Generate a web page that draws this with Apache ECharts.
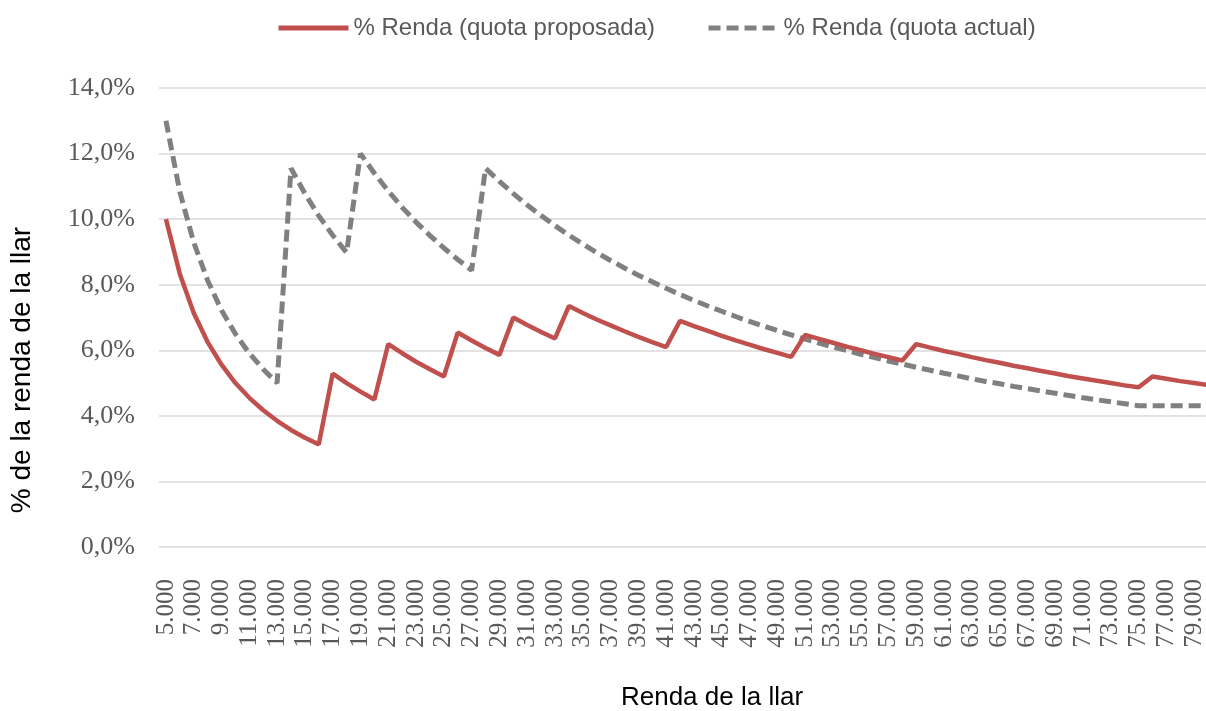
<!DOCTYPE html>
<html>
<head>
<meta charset="utf-8">
<title>% Renda</title>
<script src="https://cdn.jsdelivr.net/npm/echarts@6/dist/echarts.min.js"></script>
<style>
    html, body { margin: 0; padding: 0; background: #fff; }
    #main { width: 1206px; height: 711px; }
</style>
</head>
<body>
<div id="main"></div>
<script>
// Renda de la llar (eix X)
var rendes = [5000, 6000, 7000, 8000, 9000, 10000, 11000, 12000, 13000, 14000,
    15000, 16000, 17000, 18000, 19000, 20000, 21000, 22000, 23000, 24000,
    25000, 26000, 27000, 28000, 29000, 30000, 31000, 32000, 33000, 34000,
    35000, 36000, 37000, 38000, 39000, 40000, 41000, 42000, 43000, 44000,
    45000, 46000, 47000, 48000, 49000, 50000, 51000, 52000, 53000, 54000,
    55000, 56000, 57000, 58000, 59000, 60000, 61000, 62000, 63000, 64000,
    65000, 66000, 67000, 68000, 69000, 70000, 71000, 72000, 73000, 74000,
    75000, 76000, 77000, 78000, 79000, 80000];

// % Renda (quota proposada)
var quotaProposada = [10.0, 8.33, 7.14, 6.25, 5.56, 5.00, 4.55, 4.17, 3.85, 3.57,
    3.33, 3.13, 5.29, 5.00, 4.74, 4.50, 6.19, 5.91, 5.65, 5.42,
    5.20, 6.54, 6.30, 6.07, 5.86, 7.00, 6.77, 6.56, 6.36, 7.35,
    7.14, 6.94, 6.76, 6.58, 6.41, 6.25, 6.10, 6.90, 6.74, 6.59,
    6.44, 6.30, 6.17, 6.04, 5.92, 5.80, 6.47, 6.35, 6.23, 6.11,
    6.00, 5.89, 5.79, 5.69, 6.19, 6.08, 5.98, 5.89, 5.79, 5.70,
    5.62, 5.53, 5.45, 5.37, 5.29, 5.21, 5.14, 5.07, 5.00, 4.93,
    4.87, 5.20, 5.13, 5.06, 5.00, 4.94];

// % Renda (quota actual)
var quotaActual = [13.0, 10.83, 9.29, 8.13, 7.22, 6.50, 5.91, 5.42, 5.00, 11.55,
    10.78, 10.10, 9.51, 8.98, 12.00, 11.40, 10.86, 10.36, 9.91, 9.50,
    9.12, 8.77, 8.44, 11.55, 11.15, 10.78, 10.43, 10.11, 9.80, 9.51,
    9.24, 8.98, 8.74, 8.51, 8.29, 8.09, 7.89, 7.70, 7.52, 7.35,
    7.19, 7.03, 6.88, 6.74, 6.60, 6.47, 6.34, 6.22, 6.10, 5.99,
    5.88, 5.78, 5.67, 5.58, 5.48, 5.39, 5.30, 5.22, 5.13, 5.05,
    4.98, 4.90, 4.83, 4.76, 4.69, 4.62, 4.55, 4.49, 4.43, 4.37,
    4.31, 4.31, 4.31, 4.31, 4.31, 4.31];

var nomSeries = ['% Renda (quota proposada)', '% Renda (quota actual)'];

function formatMilers(v) {
    return String(v).replace(/\B(?=(\d{3})+(?!\d))/g, '.');
}

var myChart = echarts.init(document.getElementById('main'));
var option = {
    backgroundColor: '#ffffff',
    animation: false,
    legend: {
        left: 271,
        top: 11,
        itemWidth: 70,
        itemHeight: 14,
        itemGap: 51,
        itemStyle: { opacity: 0 },
        lineStyle: { width: 5 },
        textStyle: {
            fontFamily: 'Liberation Sans',
            fontSize: 24,
            color: '#595959'
        },
        data: nomSeries
    },
    grid: {
        left: 159,
        top: 88,
        width: 1056,
        height: 459,
        containLabel: false,
        outerBoundsMode: 'none'
    },
    xAxis: {
        type: 'category',
        data: rendes,
        boundaryGap: true,
        axisLine: { show: false },
        axisTick: { show: false },
        axisLabel: {
            interval: 1,
            rotate: 90,
            margin: 32,
            fontFamily: 'Liberation Serif',
            fontSize: 25,
            color: '#595959',
            formatter: function (v) {
                return formatMilers(v);
            }
        },
        splitLine: { show: false }
    },
    yAxis: {
        type: 'value',
        min: 0,
        max: 14,
        interval: 2,
        axisLine: { show: false },
        axisTick: { show: false },
        axisLabel: {
            margin: 24,
            fontFamily: 'Liberation Serif',
            fontSize: 26,
            color: '#595959',
            formatter: function (v) {
                return v.toFixed(1).replace('.', ',') + '%';
            }
        },
        splitLine: {
            lineStyle: { color: '#d9d9d9', width: 1.5 }
        }
    },
    graphic: [
        {
            type: 'text',
            x: 712,
            y: 698,
            style: {
                text: 'Renda de la llar',
                fontFamily: 'Liberation Sans',
                fontSize: 26,
                fill: '#000000',
                textAlign: 'center',
                textVerticalAlign: 'middle'
            }
        },
        {
            type: 'text',
            x: 22,
            y: 370,
            rotation: Math.PI / 2,
            style: {
                text: '% de la renda de la llar',
                fontFamily: 'Liberation Sans',
                fontSize: 28,
                fill: '#000000',
                textAlign: 'center',
                textVerticalAlign: 'middle'
            }
        }
    ],
    series: [
        {
            name: nomSeries[0],
            type: 'line',
            data: quotaProposada,
            symbol: 'none',
            z: 3,
            lineStyle: {
                color: '#c0504d',
                width: 4.5
            },
            itemStyle: { color: '#c0504d' }
        },
        {
            name: nomSeries[1],
            type: 'line',
            data: quotaActual,
            symbol: 'none',
            z: 2,
            lineStyle: {
                color: '#808080',
                width: 5,
                type: [12, 6]
            },
            itemStyle: { color: '#808080' }
        }
    ]
};
myChart.setOption(option);
</script>
</body>
</html>
